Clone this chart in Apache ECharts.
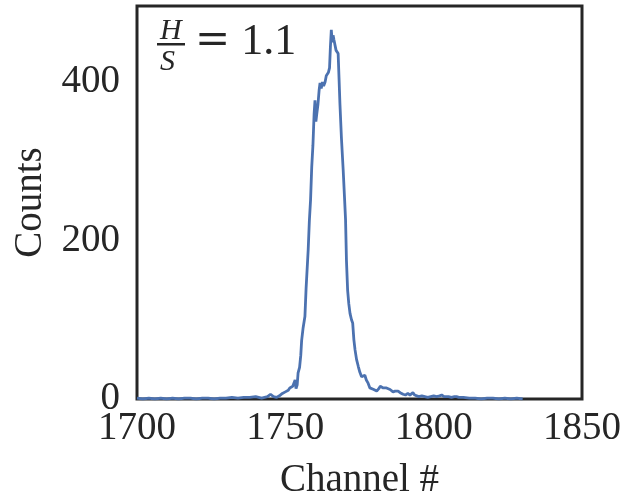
<!DOCTYPE html>
<html><head><meta charset="utf-8">
<script src="https://cdn.jsdelivr.net/npm/echarts@6/dist/echarts.min.js"></script>
<style>html,body{margin:0;padding:0;background:#fff}#c{width:640px;height:496px}</style>
</head><body><div id="c"></div>
<script>
const channels = [1700,1702,1704,1706,1708,1710,1712,1714,1716,1718,1720,1722,1724,1726,1728,1730,1732,1734,1736,1738,1740,1741,1742,1743,1744,1745,1745.5,1746,1747,1748,1749,1750,1750.5,1751,1751.5,1752,1752.5,1753,1753.3,1753.6,1754,1754.3,1754.8,1755.2,1755.5,1756,1756.6,1757,1757.7,1758.1,1758.5,1758.9,1759.3,1759.7,1760,1760.3,1760.6,1761,1761.4,1761.7,1762.1,1762.5,1762.9,1763.4,1763.8,1764.1,1764.5,1764.9,1765.2,1765.5,1765.8,1766.1,1766.4,1766.8,1767.1,1767.5,1767.8,1768.1,1768.4,1768.9,1769.5,1770,1770.3,1770.6,1771,1771.4,1771.8,1772.3,1772.7,1773.1,1773.5,1774,1774.6,1775.1,1775.7,1776.2,1776.8,1777.3,1777.9,1778.5,1779,1779.8,1780.8,1781.5,1782,1782.5,1783,1783.6,1784.1,1784.6,1785.3,1786.3,1787,1787.5,1788,1788.7,1789.7,1790.5,1791.3,1792,1793,1793.6,1794.3,1795,1796,1797,1798,1799,1800,1801,1802,1802.7,1803.5,1804,1805,1806,1807,1807.7,1808.5,1809,1810,1812,1814,1816,1818,1820,1822,1824,1826,1828,1830];
const counts = [1,0,1,0,1,0,1,0,1,1,0,1,1,0,1,1,2,1,2,2,3,2,1,2,3,6,5,3,2,4,7,9,8,11,14,13,16,15,24,13,18,33,40,55,74,90,104,140,188,225,251,293,320,360,377,350,360,372,390,399,392,400,395,400,408,409,412,418,445,466,450,459,453,455,440,438,436,405,373,330,289,250,226,175,137,120,108,100,96,75,62,50,41,34,28,27,30,24,20,14,14,12,10,13,16,18,14,12,14,15,12,9,10,12,10,8,6,5,7,5,8,5,4,3,4,3,2,3,4,3,4,5,3,2,3,2,3,3,2,1,2,1,1,0,1,1,0,1,0,1,0];
const xTicks = [1700, 1750, 1800, 1850];
const yTicks = [0, 200, 400];

const FONT = '"Liberation Serif", "DejaVu Serif", serif';
const TXT = '#262626';
const chart = echarts.init(document.getElementById('c'), null, {renderer: 'canvas'});
chart.setOption({
  animation: false,
  backgroundColor: '#fff',
  grid: {left: 137, top: 6, width: 445, height: 393, outerBoundsMode: 'none', containLabel: false,
    show: true, borderColor: '#262626', borderWidth: 3, backgroundColor: 'transparent'},
  xAxis: {
    type: 'value', min: xTicks[0], max: xTicks[xTicks.length-1], interval: 50,
    name: 'Channel #', nameLocation: 'middle', nameGap: 62,
    nameTextStyle: {fontFamily: FONT, fontSize: 39, color: TXT},
    axisLine: {show: false}, axisTick: {show: false}, splitLine: {show: false},
    axisLabel: {fontFamily: FONT, fontSize: 39, color: TXT, margin: 10, formatter: v => String(v)}
  },
  yAxis: {
    type: 'value', min: 0, max: 496, interval: 200,
    name: 'Counts', nameLocation: 'middle', nameGap: 87,
    nameTextStyle: {fontFamily: FONT, fontSize: 39, color: TXT},
    axisLine: {show: false}, axisTick: {show: false}, splitLine: {show: false},
    axisLabel: {fontFamily: FONT, fontSize: 39, color: TXT, margin: 17, showMaxLabel: false,
      formatter: v => yTicks.includes(v) ? String(v) : ''}
  },
  series: [{
    type: 'line', showSymbol: false, symbol: 'none',
    data: channels.map((c, i) => [c, counts[i]]),
    lineStyle: {color: '#4C72B0', width: 2.8}, z: 1
  }],
  graphic: [
    {type: 'text', left: 160, top: 16, style: {text: 'H', font: 'italic 30px ' + FONT, fill: TXT}},
    {type: 'rect', shape: {x: 157, y: 43, width: 28, height: 2.5}, style: {fill: TXT}},
    {type: 'text', left: 160, top: 47, style: {text: 'S', font: 'italic 30px ' + FONT, fill: TXT}},
    {type: 'text', left: 195, top: 20, style: {text: '{eq|=}{num| 1.1}',
      rich: {eq: {fontFamily: '"DejaVu Serif", serif', fontSize: 42, fill: TXT, color: TXT},
             num: {fontFamily: FONT, fontSize: 44, fill: TXT, color: TXT}}}}
  ]
});
</script></body></html>
